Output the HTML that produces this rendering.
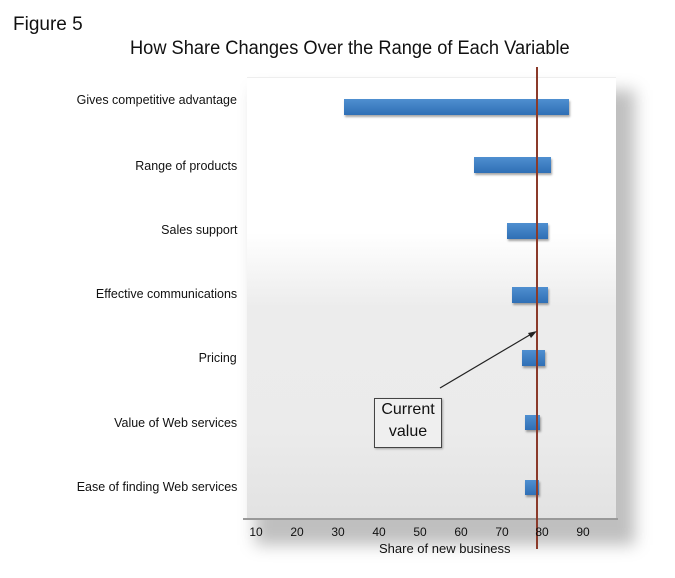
<!DOCTYPE html>
<html><head><style>
body{margin:0;width:675px;height:578px;background:#fff;position:relative;overflow:hidden;font-family:"Liberation Sans Narrow","Liberation Sans",sans-serif;color:#111}
.t{position:absolute;white-space:nowrap}
.lab{position:absolute;right:438px;font-size:13px;transform:scaleX(0.96);transform-origin:right center}
.bar{position:absolute;background:linear-gradient(#4f8fd0,#2f6fb5);box-shadow:1px 2px 2px rgba(0,0,0,.35)}
.tk{position:absolute;top:525px;font-size:12px;width:30px;text-align:center}
</style></head><body>
<div class="t" style="left:13px;top:14px;font-size:19px">Figure 5</div>
<div class="t" style="left:130px;top:38px;font-size:19px;transform:scaleX(0.96);transform-origin:left center">How Share Changes Over the Range of Each Variable</div>
<div style="position:absolute;left:255px;top:90px;width:380px;height:455px;background:rgba(0,0,0,.25);filter:blur(8px)"></div>
<div style="position:absolute;left:247px;top:77px;width:369px;height:442px;background:linear-gradient(#fff 0,#fff 35%,#ececec 52%,#ebebeb 80%,#e2e2e2 100%);border-top:1px solid #eee"></div>
<div style="position:absolute;left:243px;top:518px;width:375px;height:2px;background:#999"></div>
<div class="lab" style="top:92px">Gives competitive advantage</div>
<div class="lab" style="top:158px">Range of products</div>
<div class="lab" style="top:222px">Sales support</div>
<div class="lab" style="top:286px">Effective communications</div>
<div class="lab" style="top:350px">Pricing</div>
<div class="lab" style="top:415px">Value of Web services</div>
<div class="lab" style="top:479px">Ease of finding Web services</div>
<div class="bar" style="left:344px;top:99px;width:225px;height:16px"></div>
<div class="bar" style="left:474px;top:157px;width:77px;height:16px"></div>
<div class="bar" style="left:507px;top:223px;width:41px;height:16px"></div>
<div class="bar" style="left:512px;top:287px;width:36px;height:16px"></div>
<div class="bar" style="left:522px;top:350px;width:23px;height:16px"></div>
<div class="bar" style="left:525px;top:415px;width:15px;height:15px"></div>
<div class="bar" style="left:525px;top:480px;width:14px;height:15px"></div>
<div style="position:absolute;left:536px;top:67px;width:2px;height:482px;background:#8b3a2a"></div>
<svg style="position:absolute;left:0;top:0" width="675" height="578"><line x1="440" y1="388" x2="533" y2="333" stroke="#222" stroke-width="1.2"/><polygon points="537,331 528,333 531,338" fill="#222"/></svg>
<div style="position:absolute;left:374px;top:398px;width:66px;height:48px;border:1px solid #444;background:#efefef;font-size:16px;text-align:center;line-height:22px;box-shadow:1px 1px 2px rgba(0,0,0,.3)">Current<br>value</div>
<div class="tk" style="left:241px">10</div><div class="tk" style="left:282px">20</div><div class="tk" style="left:323px">30</div><div class="tk" style="left:364px">40</div><div class="tk" style="left:405px">50</div><div class="tk" style="left:446px">60</div><div class="tk" style="left:487px">70</div><div class="tk" style="left:527px">80</div><div class="tk" style="left:568px">90</div>
<div class="t" style="left:379px;top:541px;font-size:13px">Share of new business</div>
</body></html>
